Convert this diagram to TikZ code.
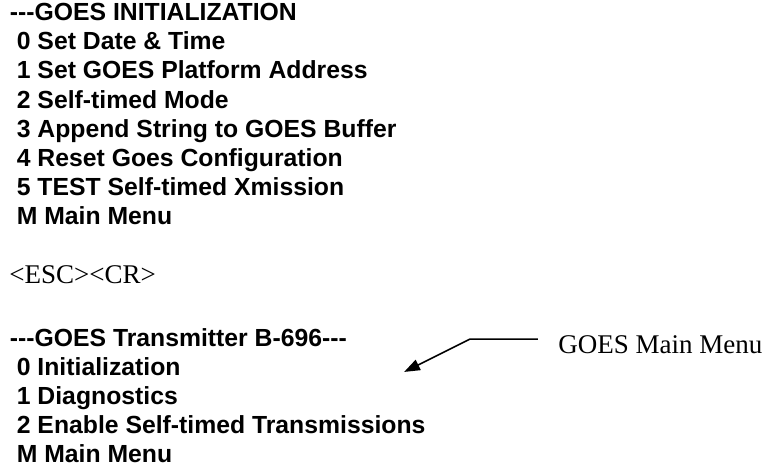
\documentclass[tikz,border=0pt]{standalone}
\usepackage{fontspec}
\setmainfont{Liberation Serif}
\newfontfamily\arialfont{Liberation Sans}
\usepackage{tikz}
\usetikzlibrary{arrows.meta,positioning}
\newcommand{\dashes}{-\kern0pt-\kern0pt-}

\tikzset{
menu/.style={font=\arialfont\bfseries\fontsize{11}{13}\selectfont, inner sep=0pt, anchor=base west},
plain/.style={font=\fontsize{12}{14}\selectfont, inner sep=0pt, anchor=base west},
row/.style={below=12.9pt of #1, anchor=base west},
callout/.style={line width=0.7pt, -{Triangle[length=7pt,width=5pt]}}
}

\begin{document}
\begin{tikzpicture}
\useasboundingbox (0,0) rectangle (339.1pt,-208.4pt);
% init menu
\node[menu] (ini) at (4.2pt,-9.3pt) {\dashes GOES INITIALIZATION};
\node[menu, row=ini.base west, xshift=3.1pt] (i0) {0 Set Date \& Time};
\node[menu, row=i0.base west] (i1) {1 Set GOES Platform Address};
\node[menu, row=i1.base west] (i2) {2 Self-timed Mode};
\node[menu, row=i2.base west] (i3) {3 Append String to GOES Buffer};
\node[menu, row=i3.base west] (i4) {4 Reset Goes Configuration};
\node[menu, row=i4.base west] (i5) {5 TEST Self-timed Xmission};
\node[menu, row=i5.base west] (im) {M Main Menu};
\node[plain] (esc) at (4pt,-125.8pt) {<ESC><CR>};
% main menu
\node[menu] (tx) at (4.2pt,-153.8pt) {\dashes GOES Transmitter B-696\dashes};
\node[menu, row=tx.base west, xshift=3.1pt] (t0) {0 Initialization};
\node[menu, row=t0.base west] (t1) {1 Diagnostics};
\node[menu, row=t1.base west] (t2) {2 Enable Self-timed Transmissions};
\node[menu, row=t2.base west] (tm) {M Main Menu};
\node[plain] (lbl) at (248pt,-156.9pt) {GOES Main Menu};
\coordinate (bend) at (208.9pt,-150.7pt);
\coordinate (tip) at (179.6pt,-165.3pt);
\draw[callout] ([xshift=-9pt]lbl.west |- bend) -- (bend) -- (tip);
\end{tikzpicture}
\end{document}
